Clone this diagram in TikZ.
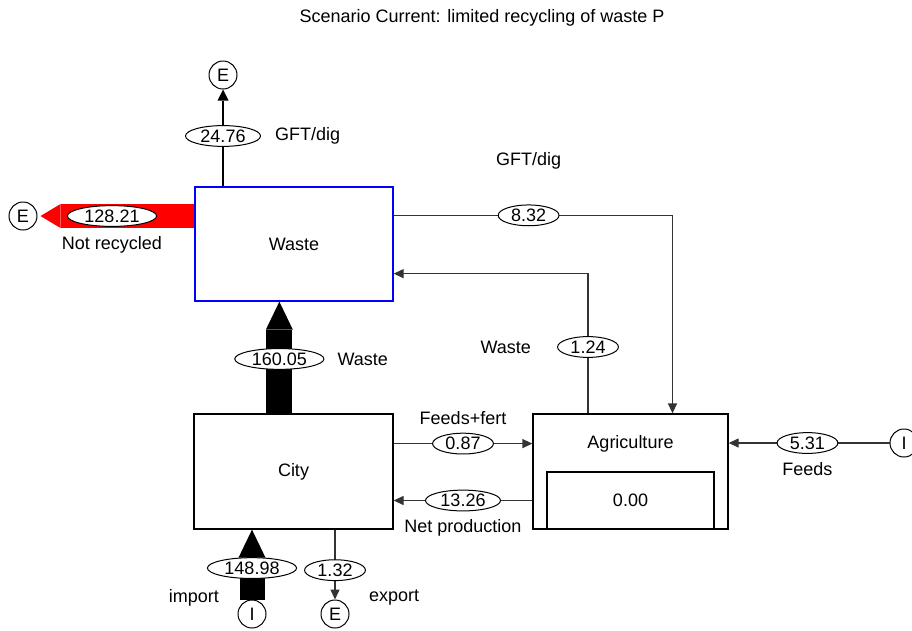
\documentclass[tikz,border=0pt]{standalone}
\usepackage{fontspec}
\setmainfont{Liberation Sans}
\usetikzlibrary{shapes.geometric, arrows.meta, positioning, calc}

\begin{document}
\begin{tikzpicture}[
    x=1pt, y=-1pt,
    % process boxes
    box/.style={rectangle, draw=black, line width=1.3pt,
                font=\fontsize{18}{21}\selectfont},
    % flow values (ellipses on the flows)
    val/.style={ellipse, draw=black, line width=1pt, fill=white,
                inner xsep=4pt, inner ysep=0pt, text height=13.4pt, text depth=1.3pt,
                font=\fontsize{18}{21}\selectfont},
    % import / export ends
    endpt/.style={circle, draw=black, line width=1pt, fill=white,
                  minimum size=28pt, inner sep=0pt,
                  font=\fontsize{18}{21}\selectfont},
    lbl/.style={inner sep=2pt, font=\fontsize{18}{21}\selectfont},
    thinflow/.style={draw=black!80, line width=1.3pt,
                     -{Triangle[length=10pt, width=9pt]}},
    medflow/.style={draw=black, line width=2.6pt,
                    -{Triangle[length=11pt, width=11pt, line width=0pt]}},
    bigflow/.style={draw=black, line width=26pt,
                    -{Triangle[length=28pt, width=27pt, line width=0pt]}},
    redflow/.style={draw=red, line width=24pt,
                    -{Triangle[length=20pt, width=24pt, line width=0pt]}}
]
\useasboundingbox (0,0) rectangle (912,630);

%-------- TITLE --------
\node[lbl] (title) at (482,18) {Scenario Current: limited recycling of waste P};

%-------- PROCESSES --------
\node[box, draw=blue, minimum width=198pt, minimum height=114pt] (waste) at (294,244) {Waste};
\node[box, minimum width=199pt, minimum height=115pt] (city) at (293.5,471.5) {City};
\node[box, minimum width=195pt, minimum height=115pt] (agri) at (630.5,471.5) {};
\node[lbl] (agrilab) at ($(agri.north)!0.26!(agri.south)$) {Agriculture};
\node[box, minimum width=167pt, minimum height=57pt, anchor=south] (stock) at (agri.south) {0.00};

%-------- IMPORTS / EXPORTS --------
\node[endpt] (etop)   at (223,75)  {E};
\node[endpt] (eleft)  at (23,216)  {E};
\node[endpt] (ibot)   at (252,614) {I};
\node[endpt] (ebot)   at (335,614) {E};
\node[endpt] (iright) at (904,443) {I};

\coordinate (gftin)  at ([xshift=42pt]agri.north);
\coordinate (gftout) at ([yshift=-29pt]waste.north east);
\coordinate (retout) at ([xshift=-42.5pt]agri.north);
\coordinate (retin)  at ([yshift=28pt]waste.south east);

%-------- FLOWS --------
\draw[medflow] (waste.north -| etop) -- node[val, pos=0.52] (v2476) {24.76} (etop);
\draw[redflow, shorten <=0.6pt, shorten >=3pt] (waste.west |- eleft)
    -- node[val, pos=0.525] (v12821) {128.21} (eleft);
\draw[bigflow] ([xshift=86pt]city.north west)
    -- node[val, pos=0.487] (v16005) {160.05} ([xshift=86pt]city.north west |- waste.south);
\draw[bigflow, line width=25pt] (ibot)
    -- node[val, pos=0.45] (v14898) {148.98} (ibot |- city.south);
\draw[thinflow] (ebot |- city.south) -- node[val, pos=0.58] (v132) {1.32} (ebot);
\draw[thinflow] (city.east |- agrilab) -- node[val] (v087) {0.87} (agri.west |- agrilab);
\draw[thinflow] (agri.west |- stock) -- node[val] (v1326) {13.26} (city.east |- stock);
\draw[thinflow] (gftout) -| node[val, pos=0.242] (v832) {8.32} (gftin);
\draw[thinflow] (retout) |- node[val, pos=0.2375] (v124) {1.24} (retin);
\draw[thinflow] (iright) -- node[val, pos=0.51] (v531) {5.31} (agri.east |- iright);

%-------- FLOW LABELS --------
\node[lbl, right=12pt of v2476] (lgft1) {GFT/dig};
\node[lbl, below=7pt of v12821] (lnotrec) {Not recycled};
\node[lbl, right=11pt of v16005] (lwaste1) {Waste};
\node[lbl, anchor=east] (limport) at ($(ibot)+(-31,-16)$) {import};
\node[lbl, anchor=west] (lexport) at ($(ebot)+(32,-16)$) {export};
\node[lbl, above=6pt of v087] (lfeedfert) {Feeds+fert};
\node[lbl, below=6pt of v1326] (lnetprod) {Net production};
\node[lbl, above=33pt of v832] (lgft2) {GFT/dig};
\node[lbl, left=24pt of v124] (lwaste2) {Waste};
\node[lbl, below=6pt of v531] (lfeeds) {Feeds};

\end{tikzpicture}
\end{document}
